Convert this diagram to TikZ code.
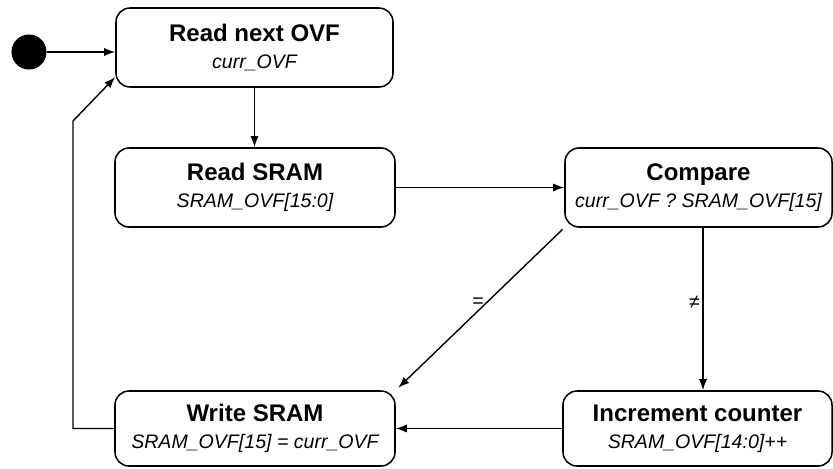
\documentclass[tikz,border=0pt]{standalone}
\usepackage{fontspec}
\setmainfont{Liberation Sans}
\usetikzlibrary{positioning,arrows.meta}
\def\sname#1{{\fontsize{20.5}{23}\selectfont\bfseries #1}}
\def\sact#1{{\itshape #1}}
\tikzset{state/.style={draw,rounded corners=0.42cm,line width=1.3pt,align=center,minimum height=2.37cm,inner sep=0pt,font=\fontsize{16.7}{23}\selectfont}  }
\tikzset{startdot/.style={circle,fill=black,minimum size=1.05cm,inner sep=0pt}  }
\tikzset{trans/.style={line width=1.2pt}  }
\tikzset{tlabel/.style={font=\fontsize{16.7}{20}\selectfont,inner sep=2pt}  }
\tikzset{>={Latex[length=9.5pt,width=7pt]}}

\begin{document}
\begin{tikzpicture}[x=0.03cm,y=-0.03cm]
	\useasboundingbox (0,0) rectangle (833,468);
		\node[startdot] (init) at (29,52) {};
		\node[state,minimum width=8.31cm] (rnext) at (254.5,47.5) {\sname{Read next OVF}\\\sact{curr\_OVF}};
		\node[state,minimum width=8.4cm] (rsram) at (255,187.5) {\sname{Read SRAM}\\\sact{SRAM\_OVF[15:0]}};
		\node[state,minimum width=8.01cm] (cmp) at (698.5,187.5) {\sname{Compare}\\\sact{curr\_OVF ? SRAM\_OVF[15]}};
		\node[state,minimum width=8.4cm,minimum height=2.25cm] (wsram) at (255,428.5) {\sname{Write SRAM}\\\sact{SRAM\_OVF[15] = curr\_OVF}};
		\node[state,minimum width=8.07cm,minimum height=2.25cm] (incr) at (697.5,428.5) {\sname{Increment counter}\\\sact{SRAM\_OVF[14:0]++}};

		\draw[trans,->] (init) -- (init -| rnext.west);
		\draw[trans,->] (rnext.south) -- (rnext.south |- rsram.north);
		\draw[trans,->] (rsram) -- (cmp);
		\draw[trans,->,shorten <=2pt,shorten >=3pt] (cmp.south west) -- node[tlabel,pos=0.46,left] {=} (wsram.north east);
		\draw[trans,->] ([xshift=0.135cm]cmp.south) -- node[tlabel,pos=0.46,left] {≠} ([xshift=0.135cm]cmp.south |- incr.north);
		\draw[trans,->] (incr) -- (wsram);
		\draw[trans,->] (wsram.west) -- (73,428.5) -- (73,121) -- (rnext.192);
	\end{tikzpicture}
\end{document}
